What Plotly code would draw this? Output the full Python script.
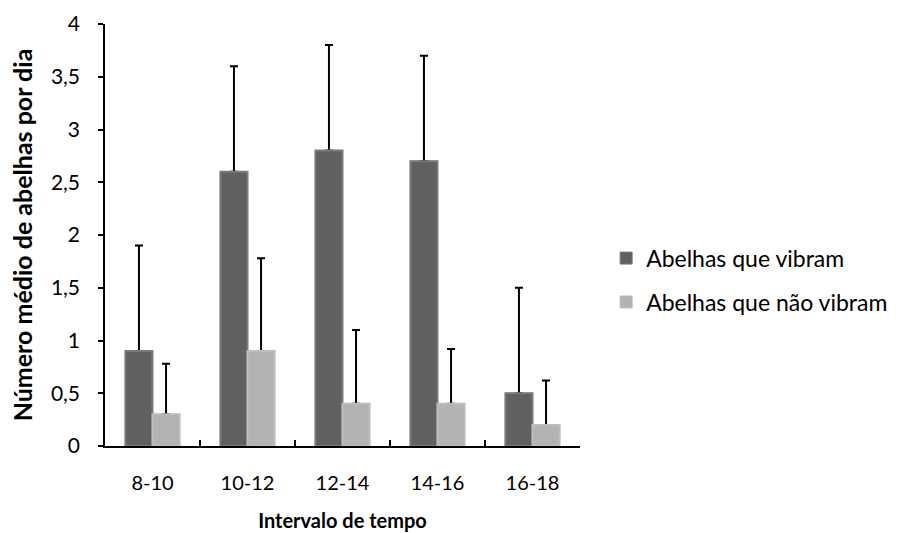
import plotly.graph_objects as go

categories = ["8-10", "10-12", "12-14", "14-16", "16-18"]
vibram = [0.9, 2.6, 2.8, 2.7, 0.5]
vibram_err = [1.0, 1.0, 1.0, 1.0, 1.0]
nao_vibram = [0.3, 0.9, 0.4, 0.4, 0.2]
nao_vibram_err = [0.48, 0.88, 0.7, 0.52, 0.42]
y_ticks = [0, 0.5, 1, 1.5, 2, 2.5, 3, 3.5, 4]

FONT = "Lato, Carlito, Calibri, sans-serif"
DARK, DARK_EDGE = "#606060", "#7a7a7a"
LIGHT, LIGHT_EDGE = "#b3b3b3", "#bdbdbd"

fig = go.Figure()
series = [
    ("Abelhas que vibram", vibram, vibram_err, DARK, DARK_EDGE, "a"),
    ("Abelhas que não vibram", nao_vibram, nao_vibram_err, LIGHT, LIGHT_EDGE, "b"),
]
# bars with (upper-only) error bars
for name, vals, err, col, edge, grp in series:
    fig.add_trace(go.Bar(
        x=categories, y=vals, name=name, legendgroup=grp, offsetgroup=grp,
        marker=dict(color=col, line=dict(color=edge, width=1)),
        error_y=dict(type="data", array=err, symmetric=False, arrayminus=[0] * len(vals),
                     color="black", thickness=2, width=4),
    ))
# same bars drawn again on top so the lower error-bar cap is hidden
for name, vals, err, col, edge, grp in series:
    fig.add_trace(go.Bar(
        x=categories, y=vals, name=name, legendgroup=grp, offsetgroup=grp,
        showlegend=False, hoverinfo="skip",
        marker=dict(color=col, line=dict(color=edge, width=2)),
    ))

fig.update_layout(
    width=908, height=533,
    margin=dict(l=105, r=328, t=24, b=87),
    paper_bgcolor="white", plot_bgcolor="white",
    barmode="group", bargap=0.43, bargroupgap=0,
    separators=", ",
    font=dict(family=FONT, size=20, color="black"),
    legend=dict(x=1.055, y=0.393, xanchor="left", yanchor="middle",
                font=dict(size=23), tracegroupgap=11, itemwidth=30),
    xaxis=dict(
        type="category", automargin=False,
        showline=True, linecolor="black", linewidth=1.5,
        ticks="inside", tickson="boundaries", ticklen=6, tickcolor="black", tickwidth=1.5,
        ticklabelstandoff=18,
        title=dict(text="<b>Intervalo de tempo</b>", font=dict(size=20), standoff=21),
        tickfont=dict(size=20),
    ),
    yaxis=dict(
        range=[0, 4], tickvals=y_ticks, showgrid=False, zeroline=False, automargin=False,
        showline=True, linecolor="black", linewidth=1.5,
        ticks="outside", ticklen=5, tickcolor="black", tickwidth=1.5,
        ticklabelstandoff=14,
        title=dict(text="<b>Número médio de abelhas por dia</b>", font=dict(size=25), standoff=11),
        tickfont=dict(size=21),
    ),
)

fig.write_html("out.html", config={"displayModeBar": False},
               post_script="document.body.style.margin='0px';")
